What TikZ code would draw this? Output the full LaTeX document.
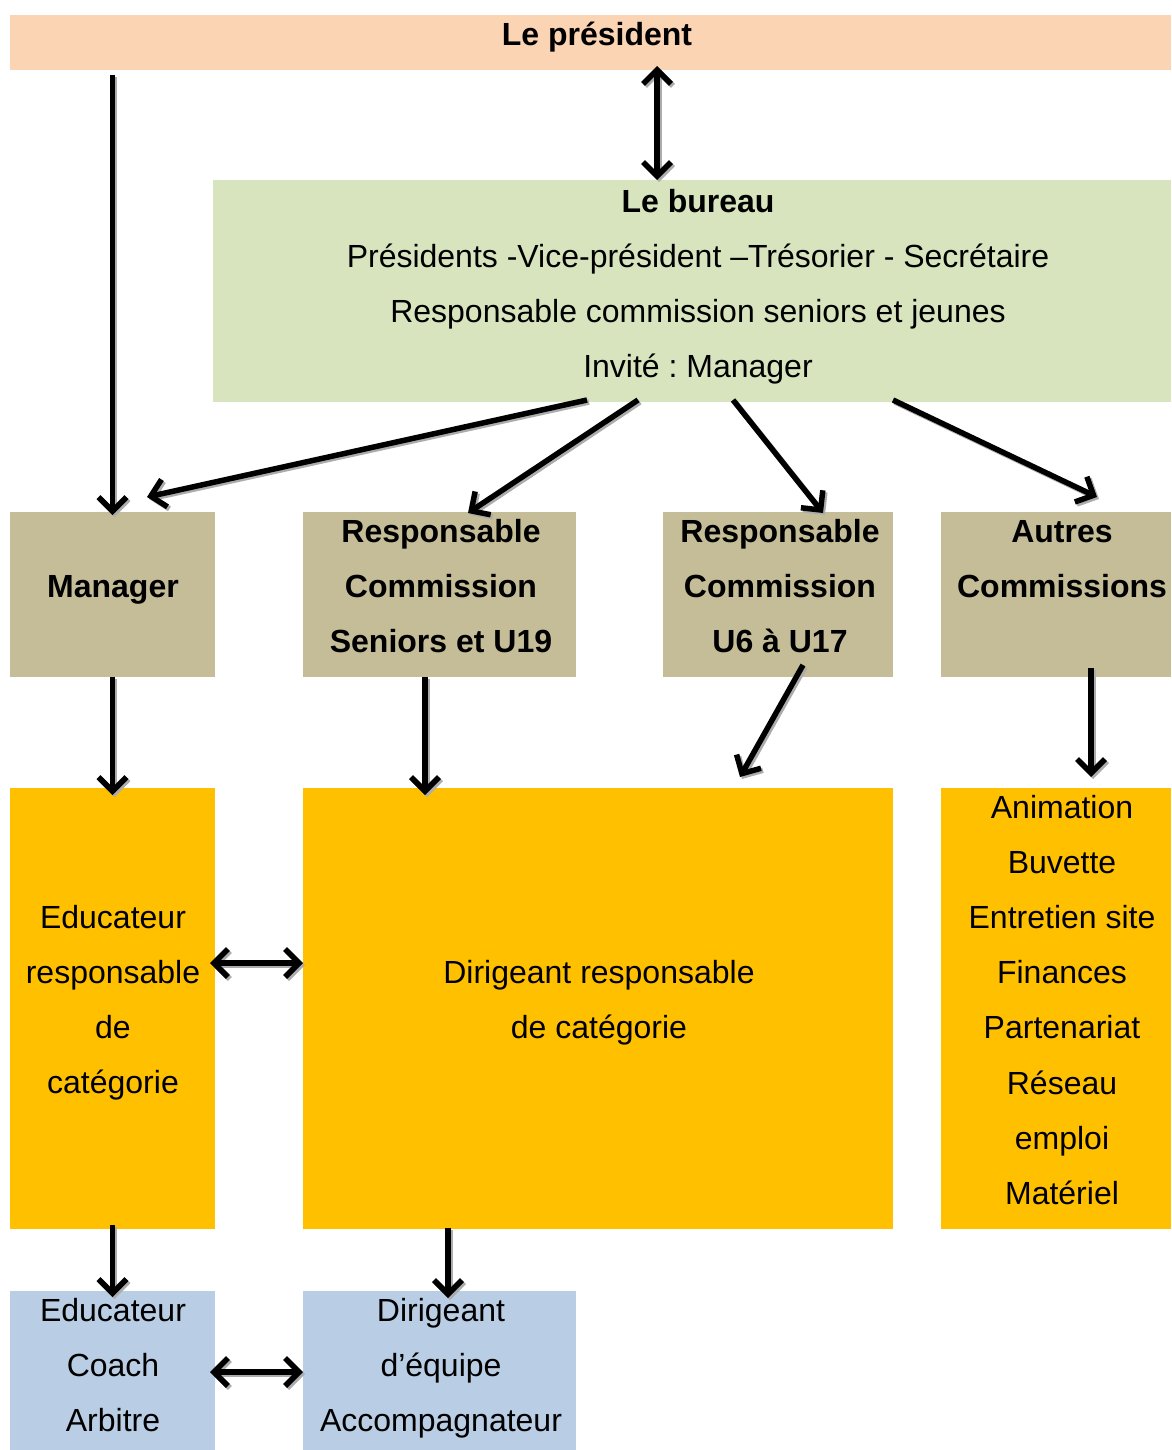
\documentclass[tikz,border=0pt]{standalone}
\usepackage{fontspec}
\setmainfont{Liberation Sans}
\usetikzlibrary{arrows.meta}
\definecolor{peach}{HTML}{FBD4B4}
\definecolor{sage}{HTML}{D7E4BD}
\definecolor{khaki}{HTML}{C4BD97}
\definecolor{amber}{HTML}{FFC000}
\definecolor{steel}{HTML}{B9CDE5}
\newcommand\mylines[1]{\begin{tabular}[t]{@{}c@{}}#1\end{tabular}}
\frenchspacing
\begin{document}
\begin{tikzpicture}[x=1pt,y=-1pt,
 box/.style={draw=none, inner sep=0, outer sep=0, anchor=north west},
 txt/.style={anchor=base, inner sep=0, font=\fontsize{32}{55.2}\selectfont},
 btxt/.style={anchor=base, inner sep=0, font=\fontsize{32}{55.2}\selectfont\bfseries},
 tip/.tip={Straight Barb[length=14pt,width=28pt]},
 arr/.style={line width=5.5pt, -tip, preaction={draw=gray!65, line width=5.5pt, -tip, transform canvas={shift={(2pt,-2pt)}}}},
 darr/.style={line width=5.5pt, tip-tip, preaction={draw=gray!65, line width=5.5pt, tip-tip, transform canvas={shift={(2pt,-2pt)}}}}
]
\useasboundingbox (0,0) rectangle (1171,1450);

% boxes
\node[box, fill=peach, minimum width=1161pt, minimum height=55pt] (pres) at (10,15) {};
\node[box, fill=sage, minimum width=958pt, minimum height=222pt] (bureau) at (213,180) {};
\node[box, fill=khaki, minimum width=205pt, minimum height=165pt] (manager) at (10,512) {};
\node[box, fill=khaki, minimum width=273pt, minimum height=165pt] (respsen) at (303,512) {};
\node[box, fill=khaki, minimum width=230pt, minimum height=165pt] (respu) at (663,512) {};
\node[box, fill=khaki, minimum width=230pt, minimum height=165pt] (autres) at (941,512) {};
\node[box, fill=amber, minimum width=205pt, minimum height=441pt] (educ) at (10,788) {};
\node[box, fill=amber, minimum width=590pt, minimum height=441pt] (dirig) at (303,788) {};
\node[box, fill=amber, minimum width=230pt, minimum height=441pt] (anim) at (941,788) {};
\node[box, fill=steel, minimum width=205pt, minimum height=159pt] (coach) at (10,1291) {};
\node[box, fill=steel, minimum width=273pt, minimum height=159pt] (equipe) at (303,1291) {};

% texts
\node[btxt] (tpres) at (597,46) {Le président};
\node[txt] (tbur) at (698,212) {\mylines{\textbf{Le bureau}\\Présidents -Vice-président –Trésorier - Secrétaire\\Responsable commission seniors et jeunes\\Invité : Manager}};
\node[btxt] (tman) at (113,597) {Manager};
\node[btxt] (tsen) at (441,542) {\mylines{Responsable\\Commission\\Seniors et U19}};
\node[btxt] (tu) at (780,542) {\mylines{Responsable\\Commission\\U6 à U17}};
\node[btxt] (taut) at (1062,542) {\mylines{Autres\\Commissions}};
\node[txt] (teduc) at (113,928) {\mylines{Educateur\\responsable\\de\\catégorie}};
\node[txt] (tdir) at (599,983) {\mylines{Dirigeant responsable\\de catégorie}};
\node[txt] (tanim) at (1062,818) {\mylines{Animation\\Buvette\\Entretien site\\Finances\\Partenariat\\Réseau\\emploi\\Matériel}};
\node[txt] (tcoach) at (113,1321) {\mylines{Educateur\\Coach\\Arbitre}};
\node[txt] (tequipe) at (441,1321) {\mylines{Dirigeant\\d’équipe\\Accompagnateur}};

% connectors
\draw[darr] ([shift={(66.5,-4)}]pres.south) -- ([shift={(-35,0)}]bureau.north);
\draw[arr] ([shift={(102.5,5)}]pres.south west) -- ([shift={(0,3)}]manager.north);
\draw[arr] ([shift={(374,-2)}]bureau.south west) -- ([shift={(34.5,-15)}]manager.north);
\draw[arr] ([shift={(425,-2)}]bureau.south west) -- ([shift={(28.5,1)}]respsen.north);
\draw[arr] ([shift={(520,-2)}]bureau.south west) -- ([shift={(45,1)}]respu.north);
\draw[arr] ([shift={(680,-2)}]bureau.south west) -- ([shift={(41,-15)}]autres.north);
\draw[arr] (manager.south) -- ([shift={(0,7)}]educ.north);
\draw[arr] ([shift={(-14.5,0)}]respsen.south) -- ([shift={(-173,7)}]dirig.north);
\draw[arr] ([shift={(25,-12)}]respu.south) -- ([shift={(142,-11)}]dirig.north);
\draw[arr] ([shift={(35,-9)}]autres.south) -- ([shift={(35,-11)}]anim.north);
\draw[darr] ([shift={(-5,-45.5)}]educ.east) -- ([shift={(0,-45.5)}]dirig.west);
\draw[arr] ([shift={(0,-4)}]educ.south) -- ([shift={(0,6)}]coach.north);
\draw[arr] ([shift={(-150,-1)}]dirig.south) -- ([shift={(8.5,7)}]equipe.north);
\draw[darr] ([shift={(-5,1.5)}]coach.east) -- ([shift={(0,1.5)}]equipe.west);
\end{tikzpicture}
\end{document}
